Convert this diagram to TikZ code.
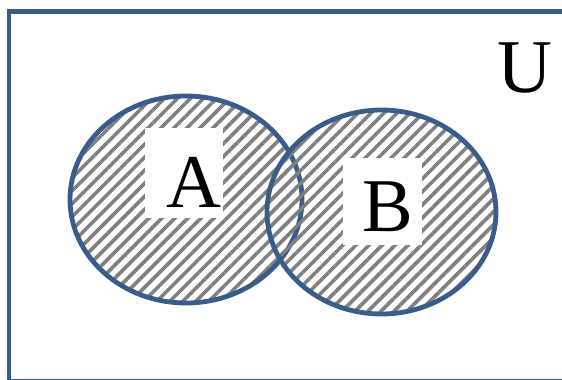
\documentclass[tikz,border=0pt]{standalone}
\usepackage{fontspec}
\setmainfont{Liberation Serif}
\usepackage{xcolor}
\usepackage{tikz}
\usetikzlibrary{shapes.geometric,patterns.meta}
\definecolor{setblue}{HTML}{385D8A}
\tikzset{
  setline/.style={draw=setblue,line width=2.4pt},
  hatched/.style={pattern={Lines[angle=45,distance=4.6pt,line width=1.8pt]},pattern color=black!50},
  setarea/.style={ellipse,setline,hatched,inner sep=0pt},
  labbox/.style={fill=white,inner sep=0pt},
  lab/.style={inner sep=0pt,font=\fontsize{38}{40}\selectfont},
}

\begin{document}
\begin{tikzpicture}[x=0.5pt,y=-0.5pt]
\useasboundingbox (0,0) rectangle (562,380);
\clip (0,0) rectangle (562,380);
% universe
\draw[setline] (9,11.5) rectangle (640,381);

% the two sets
\node[setarea,minimum width=116pt,minimum height=103.5pt] (setA) at (186,199.5) {};
\node[setarea,minimum width=114.5pt,minimum height=102pt] (setB) at (381.5,212) {};

% label boxes
\node[labbox,minimum width=39pt,minimum height=45pt] (boxA) at (184,173) {};
\node[labbox,minimum width=39.5pt,minimum height=43.5pt] (boxB) at (382.5,201.5) {};

\node[lab] (labA) at (193.5,182.5) {A};
\node[lab] (labB) at (387.5,207) {B};
\node[lab] (labU) at (525,68) {U};
\end{tikzpicture}
\end{document}
